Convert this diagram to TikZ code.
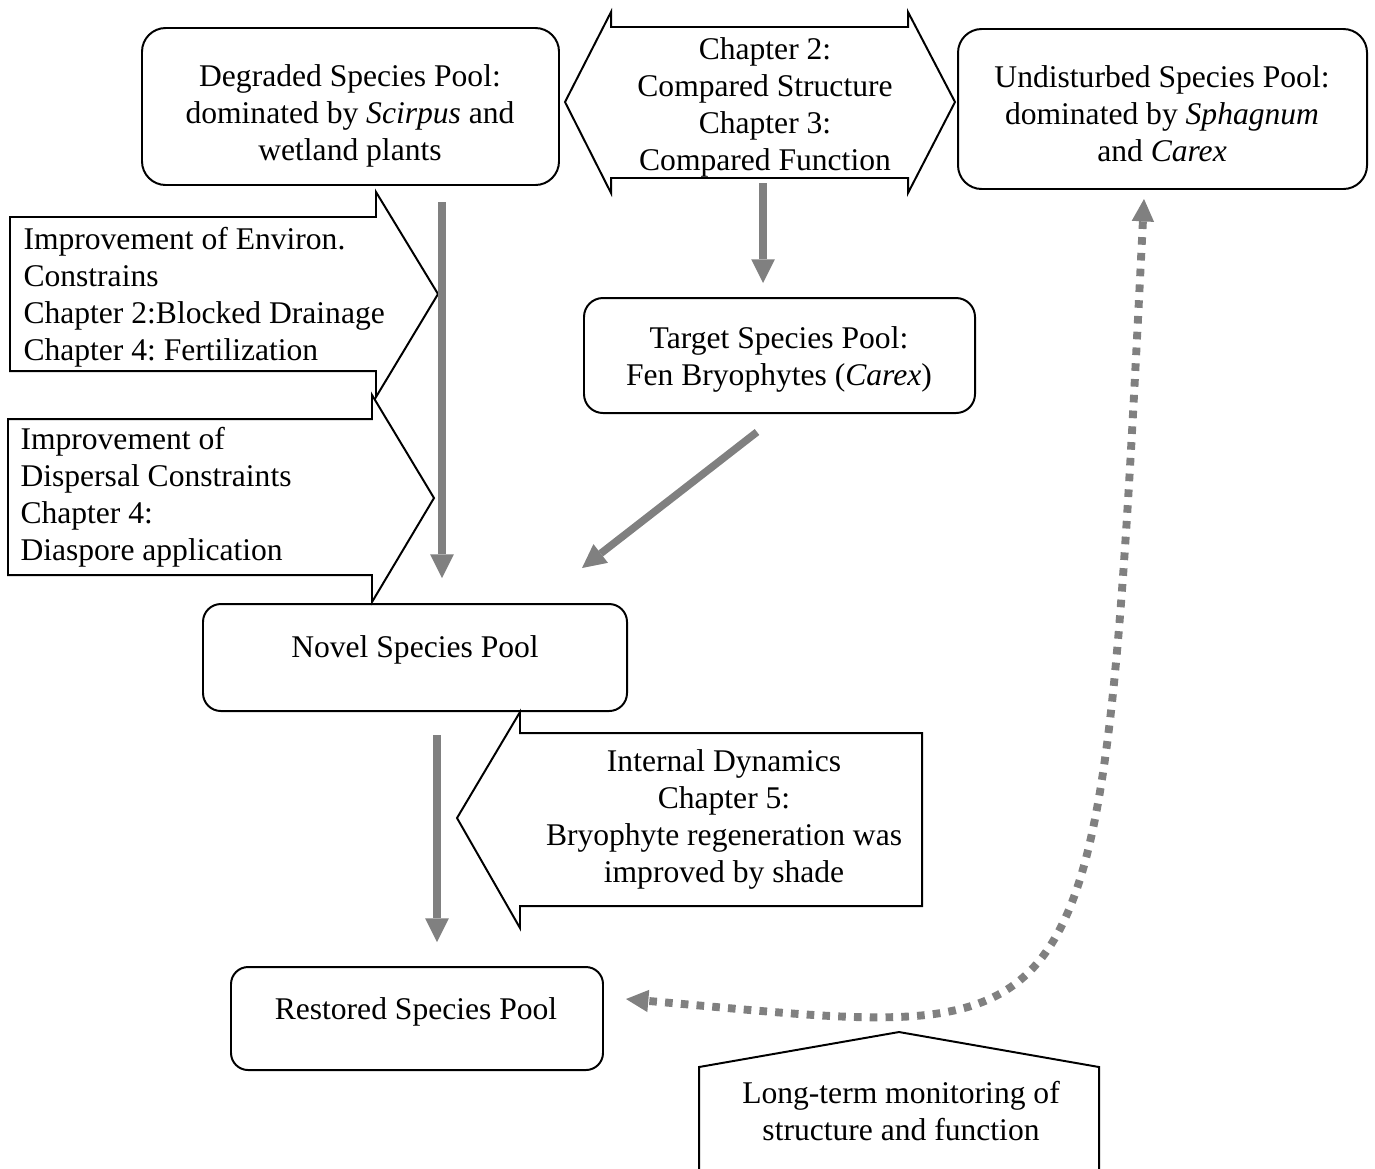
\documentclass[tikz,border=0pt]{standalone}
\usepackage{fontspec}
\setmainfont{Liberation Serif}
\usetikzlibrary{arrows.meta}
\definecolor{flowgray}{HTML}{808080}

\begin{document}
\frenchspacing
\begin{tikzpicture}[x=0.38pt,y=-0.38pt,
  pool/.style args={#1/#2/#3}{draw, line width=0.75pt, rounded corners=#3,
    minimum width=#1*0.38pt, minimum height=#2*0.38pt, inner sep=0pt},
  outline/.style={draw, line width=0.75pt, line join=miter},
  % multi-line labels are placed by the baseline of their last line
  lbl/.style={font=\fontsize{12}{14}\selectfont\frenchspacing, inner sep=0pt, align=center, anchor=base},
  lbll/.style={lbl, align=left, anchor=base west},
  flow/.style={draw=flowgray, line width=2.85pt,
    -{Triangle[length=9pt,width=9pt,line width=0pt]}},
  monitor/.style={draw=flowgray, line width=3pt, dash pattern=on 2.9pt off 3.1pt,
    {Triangle[length=8.5pt,width=8.5pt,line width=0pt]}-{Triangle[length=8.5pt,width=8.5pt,line width=0pt]}}
]
\path[use as bounding box] (0,0) rectangle (1375,1168);

% species pools
\node[pool={417/157/9pt}] (degraded) at (350.5,106.5) {};
\node[pool={409/160/9pt}] (undisturbed) at (1162.5,109) {};
\node[pool={391/115/7.2pt}] (target) at (779.5,355.5) {};
\node[pool={424/107/6.8pt}] (novel) at (415,657.5) {};
\node[pool={372/103/6.5pt}] (restored) at (417,1018.5) {};

\node[lbl] (degradedtxt) at (350,160) {Degraded Species Pool:\\dominated by \textit{Scirpus} and\\wetland plants};
\node[lbl] (undisturbedtxt) at (1162,161) {Undisturbed Species Pool:\\dominated by \textit{Sphagnum}\\and \textit{Carex}};
\node[lbl] (targettxt) at (779,385) {Target Species Pool:\\Fen Bryophytes (\textit{Carex})};
\node[lbl] (noveltxt) at (415,657) {Novel Species Pool};
\node[lbl] (restoredtxt) at (416,1019) {Restored Species Pool};

% comparison double arrow
\draw[outline] (565,102) -- (611,12) -- (611,27) -- (908,27) -- (908,12) -- (955,102)
  -- (908,193) -- (908,178) -- (611,178) -- (611,193) -- cycle;
\node[lbl] (comparetxt) at (765,170) {Chapter 2:\\Compared Structure\\Chapter 3:\\Compared Function};

% constraint callouts
\draw[outline] (10,217) -- (376,217) -- (376,192) -- (438,294) -- (376,397) -- (376,371) -- (10,371) -- cycle;
\node[lbll] (environtxt) at (23,360) {Improvement of Environ.\\Constrains\\Chapter 2:Blocked Drainage\\Chapter 4: Fertilization};

\draw[outline] (8,419) -- (372,419) -- (372,395) -- (434,498) -- (372,602) -- (372,575) -- (8,575) -- cycle;
\node[lbll] (dispersaltxt) at (20,560) {Improvement of\\Dispersal Constraints\\Chapter 4:\\Diaspore application};

% internal dynamics callout
\draw[outline] (922,733) -- (922,906) -- (520,906) -- (520,928) -- (457,818) -- (520,712) -- (520,733) -- cycle;
\node[lbl] (internaltxt) at (724,882) {Internal Dynamics\\Chapter 5:\\Bryophyte regeneration was\\improved by shade};

% monitoring callout
\draw[outline] (699,1170) -- (699,1067) -- (899,1032) -- (1099,1067) -- (1099,1170);
\node[lbl] (monitortxt) at (901,1140) {Long-term monitoring of\\structure and function};

% flow arrows
\coordinate (f1s) at (442,202);  \coordinate (f1e) at (442,578);
\coordinate (f2s) at (763,183);  \coordinate (f2e) at (763,283);
\coordinate (f3s) at (757,432);  \coordinate (f3e) at (582,568);
\coordinate (f4s) at (437,735);  \coordinate (f4e) at (437,942);
\draw[flow] (f1s) -- (f1e);
\draw[flow] (f2s) -- (f2e);
\draw[flow] (f3s) -- (f3e);
\draw[flow] (f4s) -- (f4e);

% long-term monitoring link
\coordinate (m1) at (1144,199);
\coordinate (m2) at (626,999);
\draw[monitor] (m1) .. controls (1100,1080) and (1100,1040) .. (m2);
\end{tikzpicture}
\end{document}
